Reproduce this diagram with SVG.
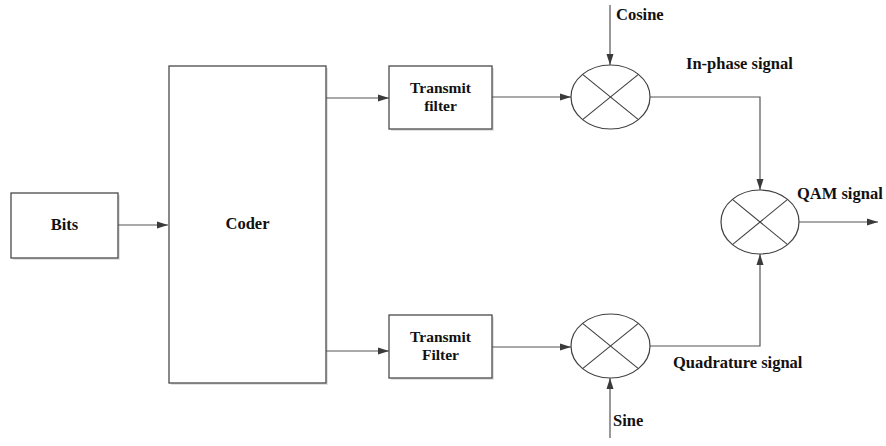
<svg xmlns="http://www.w3.org/2000/svg" width="886" height="446" viewBox="0 0 886 446">
<style>
.box{fill:#fff;stroke:#4a4a4a;stroke-width:1.3}
.shadow{fill:#e2e2e2}
.mix{fill:#fff;stroke:#404040;stroke-width:1.2}
.x{stroke:#404040;stroke-width:1.1}
.c{fill:none;stroke:#555;stroke-width:1.2}
.t{font-weight:bold;font-size:16.5px;fill:#111}
.s{font-size:15.5px}
.m{text-anchor:middle}
</style>
<defs>
<marker id="ah" markerWidth="12" markerHeight="8" refX="11" refY="4" orient="auto" markerUnits="userSpaceOnUse">
<path d="M0,0.5 L11,4 L0,7.5 Z" fill="#3a3a3a"/>
</marker>
</defs>
<rect width="886" height="446" fill="#fff"/>
<g font-family="Liberation Serif, Times New Roman, Times, serif">
<g id="bits">
<rect class="shadow" x="13" y="195" width="107" height="65"/>
<rect class="box" x="11" y="193" width="107" height="65"/>
<text class="t m" x="64.5" y="230">Bits</text>
</g>
<g id="coder">
<rect class="shadow" x="171" y="68" width="157" height="317"/>
<rect class="box" x="169" y="66" width="157" height="317"/>
<text class="t m" x="247.5" y="229">Coder</text>
</g>
<g id="filter1">
<rect class="shadow" x="391" y="68" width="103" height="63"/>
<rect class="box" x="389" y="66" width="103" height="63"/>
<text class="t s m" x="440.5" y="93">Transmit</text>
<text class="t s m" x="440.5" y="111">filter</text>
</g>
<g id="filter2">
<rect class="shadow" x="391" y="317" width="103" height="63"/>
<rect class="box" x="389" y="315" width="103" height="63"/>
<text class="t s m" x="440.5" y="342">Transmit</text>
<text class="t s m" x="440.5" y="360">Filter</text>
</g>
<g id="mixer1">
<ellipse class="mix" cx="610.5" cy="97" rx="39.5" ry="32"/>
<line class="x" x1="582.6" y1="74.4" x2="638.4" y2="119.6"/>
<line class="x" x1="638.4" y1="74.4" x2="582.6" y2="119.6"/>
</g>
<g id="mixer2">
<ellipse class="mix" cx="610.5" cy="346" rx="39.5" ry="32"/>
<line class="x" x1="582.6" y1="323.4" x2="638.4" y2="368.6"/>
<line class="x" x1="638.4" y1="323.4" x2="582.6" y2="368.6"/>
</g>
<g id="mixer3">
<ellipse class="mix" cx="760" cy="222" rx="39" ry="32"/>
<line class="x" x1="732.4" y1="199.4" x2="787.6" y2="244.6"/>
<line class="x" x1="787.6" y1="199.4" x2="732.4" y2="244.6"/>
</g>
<g id="labels">
<text class="t" x="616" y="20">Cosine</text>
<text class="t" x="686" y="69">In-phase signal</text>
<text class="t" x="797" y="199">QAM signal</text>
<text class="t" x="673" y="368">Quadrature signal</text>
<text class="t" x="613" y="426">Sine</text>
</g>
</g>
<g id="connectors">
<line class="c" x1="118" y1="225" x2="168" y2="225" marker-end="url(#ah)"/>
<line class="c" x1="326" y1="98" x2="389" y2="98" marker-end="url(#ah)"/>
<line class="c" x1="326" y1="351" x2="389" y2="351" marker-end="url(#ah)"/>
<line class="c" x1="492" y1="97" x2="571" y2="97" marker-end="url(#ah)"/>
<line class="c" x1="492" y1="347" x2="571" y2="347" marker-end="url(#ah)"/>
<line class="c" x1="610" y1="5" x2="610" y2="65" marker-end="url(#ah)"/>
<line class="c" x1="610" y1="438" x2="610" y2="378" marker-end="url(#ah)"/>
<polyline class="c" points="650,97 760,97 760,190" marker-end="url(#ah)"/>
<polyline class="c" points="650,346 760,346 760,254" marker-end="url(#ah)"/>
<line class="c" x1="799" y1="222" x2="878" y2="222" marker-end="url(#ah)"/>
</g>
</svg>
